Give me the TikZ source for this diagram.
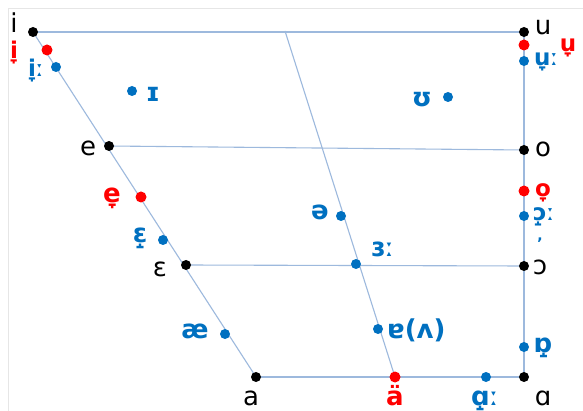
\documentclass[tikz,border=0pt]{standalone}
\usepackage{fontspec}
\setmainfont{DejaVu Sans}
\definecolor{ipablue}{HTML}{0070C0}
\definecolor{ipared}{HTML}{FF0000}
\definecolor{gridline}{HTML}{9DB9DD}
\definecolor{framegray}{HTML}{E6E6E6}
\begin{document}
\begin{tikzpicture}[x=1pt,y=-1pt,
  vline/.style={draw=gridline,line width=1.1pt},
  kdot/.style={circle,fill=black,inner sep=0pt,minimum size=10pt},
  bdot/.style={circle,fill=ipablue,inner sep=0pt,minimum size=10pt},
  rdot/.style={circle,fill=ipared,inner sep=0pt,minimum size=11pt},
  klab/.style={text=black,inner sep=0pt,anchor=base,font=\fontsize{26}{26}\selectfont},
  blab/.style={text=ipablue,inner sep=0pt,anchor=base,font=\fontsize{26}{26}\selectfont\bfseries},
  rlab/.style={text=ipared,inner sep=0pt,anchor=base,font=\fontsize{26}{26}\selectfont\bfseries},
  small/.style={font=\fontsize{23}{23}\selectfont\bfseries},
  thinlen/.style={font=\fontsize{23}{23}\selectfont}]
\useasboundingbox (0,0) rectangle (583,411);
\fill[white] (0,0) rectangle (583,411);
\draw[framegray,line width=1pt] (8,411) -- (8,9) -- (583,9);
% corner points
\coordinate (i) at (33,32);
\coordinate (u) at (524,32);
\coordinate (e) at (109,146);
\coordinate (o) at (524,150);
\coordinate (eps) at (186,265);
\coordinate (oo) at (524,266);
\coordinate (a) at (256,377);
\coordinate (aa) at (524,377);
\coordinate (adi) at (395,377);
\coordinate (ctop) at (285,31);
% lines
\draw[vline] (i) -- (u);
\draw[vline] (i) -- (a);
\draw[vline] (u) -- (aa);
\draw[vline] (e) -- (o);
\draw[vline] (eps) -- (oo);
\draw[vline] (a) -- (aa);
\draw[vline] (ctop) -- (adi);
% black dots
\node[kdot] (di) at (i) {};
\node[kdot] (du) at (u) {};
\node[kdot] (de) at (e) {};
\node[kdot] (do) at (o) {};
\node[kdot] (deps) at (eps) {};
\node[kdot] (doo) at (oo) {};
\node[kdot] (da) at (a) {};
\node[kdot] (daa) at (aa) {};
\node[rdot] (dadi) at (adi) {};
% other dots
\node[rdot] (ir) at (47,50) {};
\node[bdot] (ib) at (56,67) {};
\node[bdot] (smi) at (132,91) {};
\node[bdot] (smu) at (448,97) {};
\node[rdot] (ur) at (524,45) {};
\node[bdot] (ub) at (524,61) {};
\node[rdot] (er) at (141,197) {};
\node[bdot] (eb) at (163,240) {};
\node[bdot] (schwa) at (341,216) {};
\node[bdot] (rev) at (356,264) {};
\node[rdot] (or) at (524,191) {};
\node[bdot] (ob) at (524,216) {};
\node[bdot] (ae) at (225,334) {};
\node[bdot] (turna) at (378,329) {};
\node[bdot] (turnaa) at (524,347) {};
\node[bdot] (ab) at (486,377) {};
% black labels
\node[klab] (li) at (14,33) {i};
\node[klab] (lu) at (543,35) {u};
\node[klab] (le) at (88,156) {e};
\node[klab] (lo) at (543,157) {o};
\node[klab] (leps) at (160,277) {ɛ};
\node[klab] (loo) at (540,275) {ɔ};
\node[klab] (la) at (251,405) {a};
\node[klab] (laa) at (543,405) {ɑ};
% red labels
\node[rlab,small] (lir) at (14,59) {i̞};
\node[rlab,small] (lur) at (568,52) {u̞};
\node[rlab] (ler) at (112,203) {e̞};
\node[rlab,small] (lor) at (543,197) {o̞};
\node[rlab] (ladi) at (395,405) {ä};
% blue labels
\node[blab,small,anchor=base west] (lib) at (28,77) {i̞{\mdseries ː}};
\node[blab] (lsmi) at (153,102) {ɪ};
\node[blab] (lsmu) at (422,107) {ʊ};
\node[blab,small,anchor=base west] (lub) at (534,66) {u̞{\mdseries ː}};
\node[blab] (leb) at (140,243) {ɛ̝};
\node[blab] (lschwa) at (320,220) {ə};
\node[blab,anchor=base west] (lrev) at (371,257) {ɜ{\mdseries ː}};
\node[blab,small,anchor=base west] (lob) at (533,221) {ɔ̝{\mdseries ː}};
\node[blab,font=\fontsize{14}{14}\selectfont\bfseries] (lcomma) at (540,241) {,};
\node[blab] (lae) at (195,338) {æ};
\node[blab,anchor=base west] (lturna) at (387,338) {ɐ(ʌ)};
\node[blab] (lturnaa) at (543,352) {ɒ̝};
\node[blab,anchor=base west] (lab) at (471,405) {ɑ̝{\mdseries ː}};
\end{tikzpicture}
\end{document}
